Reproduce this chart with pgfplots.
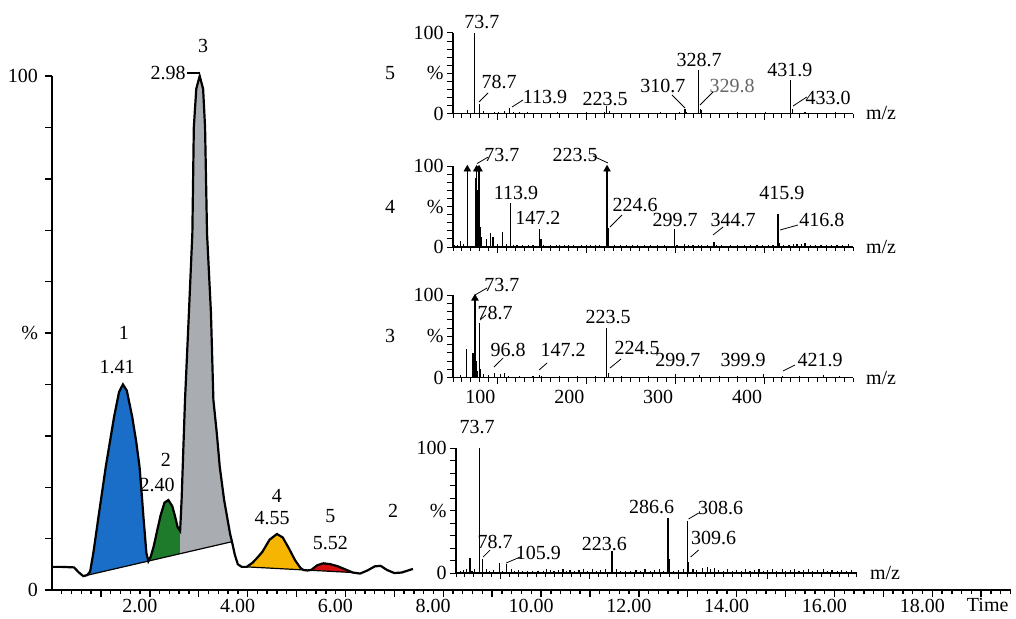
\documentclass[border=0pt]{standalone}
\usepackage{fontspec}
\setmainfont{Liberation Serif}
\usepackage{pgfplots}
\pgfplotsset{compat=1.18}
\definecolor{pkblue}{HTML}{1B6EC8}
\definecolor{pkgreen}{HTML}{1E7B2C}
\definecolor{pkgray}{HTML}{A9ACB0}
\definecolor{pkyellow}{HTML}{F6B500}
\definecolor{pkred}{HTML}{D40F0F}
\pgfplotsset{
  spec/.style={
    scale only axis, width=200pt, xmin=50, xmax=500, ymin=0, ymax=100,
    axis lines=left, axis line style={-, line width=0.7pt},
    tick align=outside, tick style={black, line width=0.5pt},
    major tick length=3pt, minor tick length=2pt,
    xtick={100,200,300,400}, minor xtick={50,60,...,500},
    xticklabels={}, ytick={0,10,...,100}, yticklabels={0,,,,,\%,,,,,100},
    yticklabel style={inner sep=1.5pt},
    clip=false, anchor=south west,
    /pgf/number format/assume math mode=true,
  },
  comb/.style={ycomb, black, line width=0.6pt, no marks},
  arr/.style={only marks, mark=triangle*, mark size=1.8pt, black},
}
\begin{document}
\begin{tikzpicture}
\useasboundingbox (0,0) rectangle (508pt,309pt);
% ---------------- main chromatogram ----------------
\begin{axis}[scale only axis, width=479.25pt, height=257pt, at={(26pt,14pt)}, anchor=south west,
  xmin=0, xmax=19.6, ymin=0, ymax=100,
  axis lines=left, axis line style={-, line width=1.2pt},
  tick align=outside, tick style={black, line width=0.7pt},
  major tick length=3.5pt, minor tick length=2pt,
  xtick={1,...,19},
  xticklabels={,2.00,,4.00,,6.00,,8.00,,10.00,,12.00,,14.00,,16.00,,18.00,},
  minor xtick={0.2,0.4,...,19.6},
  xticklabel style={xshift=-5pt, yshift=2.5pt},
  ytick={0,10,...,100}, yticklabels={0,,,,,\%,,,,,100},
  clip=false,
  /pgf/number format/assume math mode=true]
% filled peaks
\addplot[fill=pkblue, draw=none] coordinates {(0.64,2.7) (0.72,2.9) (0.78,3.6) (0.85,7.5) (0.95,14.2) (1.1,24) (1.27,33.7) (1.37,38.5) (1.45,40) (1.53,38.8) (1.64,33.7) (1.72,29) (1.79,24) (1.84,18) (1.87,14.2) (1.93,7.2) (1.97,5.6)};
\addplot[fill=pkgreen, draw=none] coordinates {(1.97,5.6) (2.02,6.5) (2.08,8.5) (2.14,11.1) (2.22,14.5) (2.3,17) (2.38,17.5) (2.46,16.3) (2.52,14.2) (2.57,12.2) (2.62,11.5) (2.62,7.06)};
\addplot[fill=pkgray, draw=none] coordinates {(2.62,7.06) (2.62,11.5) (2.65,17.5) (2.72,37) (2.8,54) (2.87,69.4) (2.9,90) (2.95,97.5) (3.02,100) (3.09,97.5) (3.13,90) (3.17,69.4) (3.25,54) (3.3,37) (3.37,30.5) (3.43,24) (3.52,17.5) (3.64,11) (3.68,9.4)};
\addplot[fill=pkyellow, draw=none] coordinates {(3.98,4.5) (4.1,5.3) (4.19,6.2) (4.3,7.4) (4.45,9.8) (4.6,10.9) (4.72,10.2) (4.85,8) (4.97,5.8) (5.08,4.3) (5.14,3.9)};
\addplot[fill=pkred, draw=none] coordinates {(5.3,3.9) (5.42,4.8) (5.55,5.2) (5.7,5.0) (5.85,4.6) (6.0,4.0) (6.15,3.4)};
% integration baselines
\addplot[black, line width=0.6pt] coordinates {(0.64,2.7) (3.68,9.4)};
\addplot[black, line width=0.6pt] coordinates {(3.98,4.5) (6.15,3.4)};
% chromatogram trace
\addplot[black, line width=1.1pt] coordinates {(0,4.5) (0.2,4.5) (0.45,4.4) (0.55,3.4) (0.64,2.7) (0.72,2.9) (0.78,3.6) (0.85,7.5) (0.95,14.2) (1.1,24) (1.27,33.7) (1.37,38.5) (1.45,40) (1.53,38.8) (1.64,33.7) (1.72,29) (1.79,24) (1.84,18) (1.87,14.2) (1.93,7.2) (1.97,5.6) (2.02,6.5) (2.08,8.5) (2.14,11.1) (2.22,14.5) (2.3,17) (2.38,17.5) (2.46,16.3) (2.52,14.2) (2.57,12.2) (2.62,11.5) (2.65,17.5) (2.72,37) (2.8,54) (2.87,69.4) (2.9,90) (2.95,97.5) (3.02,100) (3.09,97.5) (3.13,90) (3.17,69.4) (3.25,54) (3.3,37) (3.37,30.5) (3.43,24) (3.52,17.5) (3.64,11) (3.68,9.4) (3.74,6.8) (3.8,5.0) (3.88,4.5) (3.98,4.5) (4.1,5.3) (4.19,6.2) (4.3,7.4) (4.45,9.8) (4.6,10.9) (4.72,10.2) (4.85,8) (4.97,5.8) (5.08,4.3) (5.14,3.9) (5.22,3.8) (5.3,3.9) (5.42,4.8) (5.55,5.2) (5.7,5.0) (5.85,4.6) (6.0,4.0) (6.15,3.4) (6.3,3.2) (6.45,3.8) (6.6,4.6) (6.72,4.7) (6.85,3.9) (7.0,3.3) (7.15,3.4) (7.38,4.1)};
% peak annotations
\node at (axis cs:3.09,105.8) {3};
\node[anchor=east, inner sep=0pt] at (axis cs:2.74,100.6) {2.98};
\draw[line width=0.6pt] (axis cs:2.77,100.6) -- (axis cs:3.02,100.6);
\node at (axis cs:1.47,50) {1};
\node at (axis cs:1.33,43.4) {1.41};
\node at (axis cs:2.33,25.3) {2};
\node at (axis cs:2.15,20.4) {2.40};
\node at (axis cs:4.6,18.3) {4};
\node at (axis cs:4.5,14) {4.55};
\node at (axis cs:5.69,14.4) {5};
\node at (axis cs:5.69,9.1) {5.52};
\node[anchor=base east] at (axis cs:19.6,0) [xshift=2.5pt, yshift=-10.5pt] {Time};
\end{axis}
% ---------------- spectrum 5 ----------------
\begin{axis}[spec, height=40.25pt, at={(226.5pt,252.25pt)}]
\addplot[comb] coordinates {(66.5,4) (74.5,100) (79.5,12) (84,3) (97,2) (101,2) (108,3) (114,7) (118,2) (125,2) (134,2) (168,1.5) (200,1.5) (220,2) (223,9) (226,3) (283,2) (305,2) (311,5) (313,2) (326,54) (328,5) (330,4) (370,1.5) (402,2) (430,41) (432,6) (446,2) (480,1.5)};
\node at (axis cs:82.6,113.7) {73.7};
\node at (axis cs:101.8,39) {78.7};
\draw[line width=0.4pt] (axis cs:79.3,14.3) -- (axis cs:89.4,25.5);
\node at (axis cs:153.5,20.5) {113.9};
\draw[line width=0.4pt] (axis cs:116.4,8.1) -- (axis cs:128.8,16.8);
\node at (axis cs:221,18) {223.5};
\node at (axis cs:286,34.2) {310.7};
\draw[line width=0.4pt] (axis cs:296.4,23) -- (axis cs:311,6.8);
\node at (axis cs:326.8,66.5) {328.7};
\node[text=black!60] at (axis cs:363.9,34.2) {329.8};
\draw[line width=0.4pt] (axis cs:342.5,26.7) -- (axis cs:327.9,10.6);
\node at (axis cs:429,54) {431.9};
\node at (axis cs:471.9,19.3) {433.0};
\draw[line width=0.4pt] (axis cs:448,20.5) -- (axis cs:432.5,9.3);
\node[anchor=west] at (axis cs:500,0) [xshift=3pt] {m/z};
\node at (axis cs:50,50) [xshift=-31.5pt] {5};
\end{axis}
% ---------------- spectrum 4 ----------------
\begin{axis}[spec, height=40.5pt, at={(226.5pt,185.5pt)}]
\addplot[comb] coordinates {(52,2) (55,3) (58.6,8) (62,4) (66.1,100) (75.5,85) (76.7,100) (77.5,70) (78.2,30) (79.3,100) (80.5,25) (82,12) (88,10) (92.4,17) (95,12) (100,4) (106,18) (110,4) (115,54) (118,3) (122,2) (128,2) (135,2) (140,2.5) (147,22) (149,10) (152,3) (160,2) (166,2) (170,3) (175,2) (180,2.5) (186,2) (195,2) (200,2) (205,2.5) (210,2) (215,3) (223.3,100) (224.8,23) (232,2) (238,2.5) (245,2) (252,2.5) (258,2) (265,2) (272,2) (280,2) (288,2) (299,22) (302,3) (310,3.5) (315,3) (320,3) (326,3) (330,3) (336,3) (343.6,6) (346,3) (352,2) (362,2) (370,2.5) (378,2) (385,2) (392,2) (398,2) (405,2) (410,3) (415.6,41) (417,5) (422,3) (428,3) (433,4) (437,4) (442,4) (446,5) (452,3) (458,2) (464,2.5) (470,2) (476,2.5) (482,2) (488,2.5) (495,4)};
\addplot[arr] coordinates {(66.1,96) (76.7,96) (79.3,96) (223.3,96)};
\node at (axis cs:105.1,113.6) {73.7};
\draw[line width=0.4pt] (axis cs:77,103) -- (axis cs:89.4,111);
\node at (axis cs:187.3,113.6) {223.5};
\draw[line width=0.4pt] (axis cs:207.5,112.3) -- (axis cs:224.4,103.7);
\node at (axis cs:120.9,66.7) {113.9};
\node at (axis cs:145.6,35.8) {147.2};
\node at (axis cs:254.8,51.9) {224.6};
\draw[line width=0.4pt] (axis cs:226.6,24.7) -- (axis cs:240.1,39.5);
\node at (axis cs:299.8,33.3) {299.7};
\node at (axis cs:365,33.3) {344.7};
\draw[line width=0.4pt] (axis cs:342.5,14.8) -- (axis cs:353.8,24.7);
\node at (axis cs:420.1,66.7) {415.9};
\node at (axis cs:465.1,33.3) {416.8};
\draw[line width=0.4pt] (axis cs:417.9,21) -- (axis cs:438.1,27.2);
\node[anchor=west] at (axis cs:500,0) [xshift=3pt] {m/z};
\node at (axis cs:50,50) [xshift=-31.5pt] {4};
\end{axis}
% ---------------- spectrum 3 ----------------
\begin{axis}[spec, height=41.25pt, at={(226.5pt,120.25pt)},
  xticklabels={100,200,300,400}, xticklabel style={xshift=-8.5pt}]
\addplot[comb] coordinates {(58,3) (65.4,35) (72.5,30) (74.7,100) (76,20) (77.5,8) (79.6,66) (81,10) (84,4) (90,3) (97,5) (103,4) (108,6) (112,2) (125,2) (140,2) (147,3) (150,2) (170,1.5) (190,1.5) (210,1.5) (223,60) (225,5) (240,1.5) (270,1.5) (300,4) (327,3) (350,1.5) (370,2) (399,4) (421,2) (440,2) (467,3) (485,2)};
\addplot[arr] coordinates {(74.7,96)};
\node at (axis cs:105.1,112) {73.7};
\draw[line width=0.4pt] (axis cs:74.8,100) -- (axis cs:88.3,108.5);
\node at (axis cs:97.3,78.2) {78.7};
\draw[line width=0.4pt] (axis cs:80.4,69.7) -- (axis cs:87.1,75.8);
\node at (axis cs:224.4,73.3) {223.5};
\node at (axis cs:111.9,33.3) {96.8};
\draw[line width=0.4pt] (axis cs:96.1,12.7) -- (axis cs:106.3,23.6);
\node at (axis cs:173.8,33.3) {147.2};
\draw[line width=0.4pt] (axis cs:146.8,9.1) -- (axis cs:155.8,17.6);
\node at (axis cs:257,35.8) {224.5};
\draw[line width=0.4pt] (axis cs:226.6,11.5) -- (axis cs:239,22.4);
\node at (axis cs:303.1,21.2) {299.7};
\node at (axis cs:376.3,21.2) {399.9};
\node at (axis cs:462.9,21.2) {421.9};
\draw[line width=0.4pt] (axis cs:421.3,7.9) -- (axis cs:434.8,15.2);
\node[anchor=west] at (axis cs:500,0) [xshift=3pt] {m/z};
\node at (axis cs:50,50) [xshift=-31.5pt] {3};
\end{axis}
% ---------------- spectrum 2 ----------------
\begin{axis}[spec, width=200.5pt, height=62.5pt, at={(228pt,22.5pt)}]
\addplot[comb] coordinates {(55,2) (58,2.5) (62,3) (65.75,12) (68,2) (71,3) (76.25,100) (79.6,11.5) (84,3) (88,2) (92,2.5) (98.75,8) (102,2) (107,7.5) (112,3) (116,2) (120,2.5) (125,1.5) (130,2) (136,2) (142,1.5) (148,2) (152,3) (156,2.5) (160,2) (165,2.5) (170,3) (174,2) (178,2.5) (183,2) (188,2.5) (193,3) (198,2) (203,3.5) (208,2) (212,2.5) (218,3) (225,17.6) (230,3) (235,2) (240,1.5) (246,2) (252,2.5) (257,2) (262,3) (268,2) (273,2.5) (278,3) (283,2) (288,44) (289,11) (294,2) (300,2.5) (305,3) (310,41.6) (311,9) (316,3) (320,2.5) (327,4) (332,5) (336,3) (340,4) (345,2.5) (350,2) (355,3) (360,2) (365,2.5) (370,2) (375,3) (380,2) (385,2.5) (390,3) (395,2) (400,2.5) (405,3) (410,2) (416,3) (420,2) (425,2.5) (430,3) (435,2) (440,2.5) (446,3) (450,2) (456,2.5) (462,3) (467,2) (472,2.5) (478,2) (483,2.5) (488,2) (494,2.5)};
\node at (axis cs:73.6,116.8) {73.7};
\node at (axis cs:93.9,24.8) {78.7};
\draw[line width=0.4pt] (axis cs:80.4,12.8) -- (axis cs:88.3,18.4);
\node at (axis cs:142.3,16) {105.9};
\draw[line width=0.4pt] (axis cs:106.3,8) -- (axis cs:122,12.8);
\node at (axis cs:216.5,23.2) {223.6};
\node at (axis cs:269.4,52.8) {286.6};
\node at (axis cs:347,52) {308.6};
\draw[line width=0.4pt] (axis cs:311,43.2) -- (axis cs:322.3,48);
\node at (axis cs:339.1,28) {309.6};
\draw[line width=0.4pt] (axis cs:313.3,12.8) -- (axis cs:322.3,18.4);
\node[anchor=west] at (axis cs:500,0) [xshift=3pt] {m/z};
\node at (axis cs:50,50) [xshift=-31.5pt] {2};
\end{axis}
\end{tikzpicture}
\end{document}
